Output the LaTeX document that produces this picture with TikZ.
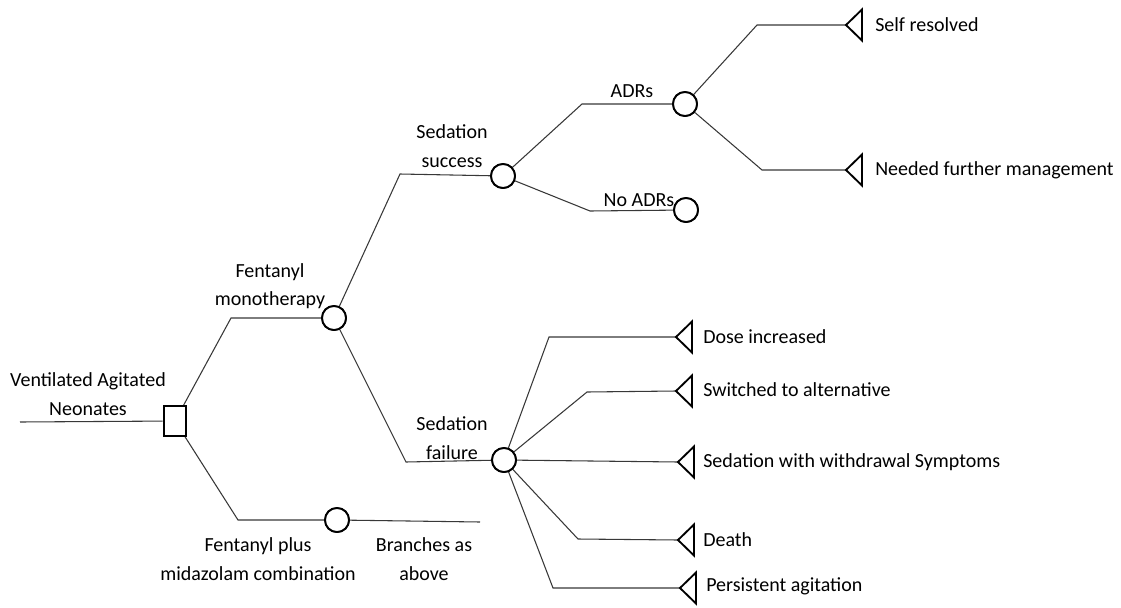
\documentclass[tikz,border=0pt]{standalone}
\usepackage{fontspec}
\setmainfont{Carlito}
\begin{document}
\begin{tikzpicture}[x=0.75pt,y=-0.75pt,
  branch/.style={draw=black!78,line width=0.8pt},
  chance/.style={circle,draw=black,line width=1.4pt,fill=white,minimum size=18pt,inner sep=0pt},
  decision/.style={rectangle,draw=black,line width=1.4pt,fill=white,minimum width=17pt,minimum height=22.5pt,inner sep=0pt},
  endmark/.style={draw=black,line width=1.4pt,line join=miter},
  lbl/.style={text=black,font=\fontsize{15}{21.5}\selectfont,inner sep=0pt,align=center},
  outcome/.style={lbl,anchor=west}]
\useasboundingbox (0,0) rectangle (1121,607);

% decision and chance nodes
\node[decision] (sq) at (175,421) {};
\node[chance] (fm) at (334,318) {};
\node[chance] (fp) at (337,520) {};
\node[chance] (ss) at (503,176) {};
\node[chance] (sf) at (504,460) {};
\node[chance] (adr) at (685,104) {};
\node[chance] (nadr) at (686,210) {};

% bends and free ends
\coordinate (root) at (20,422);
\coordinate (bfm) at (231,318);
\coordinate (bfp) at (238,520);
\coordinate (fpend) at (480,522);
\coordinate (bss) at (400,174);
\coordinate (bsf) at (406,462);
\coordinate (badr) at (582,104);
\coordinate (bnadr) at (590,211);
\coordinate (bself) at (757,25);
\coordinate (bneed) at (762,170);
\coordinate (bdose) at (549,337);
\coordinate (bswitch) at (587,392);
\coordinate (bdeath) at (578,539);
\coordinate (bpers) at (553,588);

% terminal nodes (tips of the triangles)
\coordinate (tself) at (846,25);
\coordinate (tneed) at (846,170);
\coordinate (tdose) at (676,337);
\coordinate (tswitch) at (676,391);
\coordinate (twith) at (678,462);
\coordinate (tdeath) at (678,540);
\coordinate (tpers) at (680,588);

% connectors
\draw[branch] (root) -- (sq);
\draw[branch] (sq) -- (bfm) -- (fm);
\draw[branch] (sq) -- (bfp) -- (fp);
\draw[branch] (fp) -- (fpend);
\draw[branch] (fm) -- (bss) -- (ss);
\draw[branch] (fm) -- (bsf) -- (sf);
\draw[branch] (ss) -- (badr) -- (adr);
\draw[branch] (ss) -- (bnadr) -- (nadr);
\draw[branch] (adr) -- (bself) -- (tself);
\draw[branch] (adr) -- (bneed) -- (tneed);
\draw[branch] (sf) -- (bdose) -- (tdose);
\draw[branch] (sf) -- (bswitch) -- (tswitch);
\draw[branch] (sf) -- (twith);
\draw[branch] (sf) -- (bdeath) -- (tdeath);
\draw[branch] (sf) -- (bpers) -- (tpers);

% redraw nodes over the connectors
\foreach \n in {fm,fp,ss,sf,adr,nadr} \node[chance] at (\n) {};
\node[decision] at (sq) {};

% terminal triangles
\foreach \t in {tself,tneed,tdose,tswitch,twith,tdeath,tpers}
  \draw[endmark] (\t) -- ++(16,-15.5) -- ++(0,31) -- cycle;

% labels
\node[lbl] (lroot) at (88,394) {Ventilated Agitated\\Neonates};
\node[lbl] (lfm) at (270,286) {Fentanyl\\monotherapy};
\node[lbl] (lfp) at (258,559) {Fentanyl plus\\midazolam combination};
\node[lbl] (lba) at (424,559) {Branches as\\above};
\node[lbl] (lss) at (452,146) {Sedation\\success};
\node[lbl] (lsf) at (452,438) {Sedation\\failure};
\node[lbl] (ladr) at (632,91) {ADRs};
\node[lbl] (lnadr) at (639,200) {No ADRs};
\node[outcome] (oself) at (875,25) {Self resolved};
\node[outcome] (oneed) at (875,170) {Needed further management};
\node[outcome] (odose) at (703,337) {Dose increased};
\node[outcome] (oswitch) at (703,390) {Switched to alternative};
\node[outcome] (owith) at (703,462) {Sedation with withdrawal Symptoms};
\node[outcome] (odeath) at (703,540) {Death};
\node[outcome] (opers) at (706,586) {Persistent agitation};
\end{tikzpicture}
\end{document}
